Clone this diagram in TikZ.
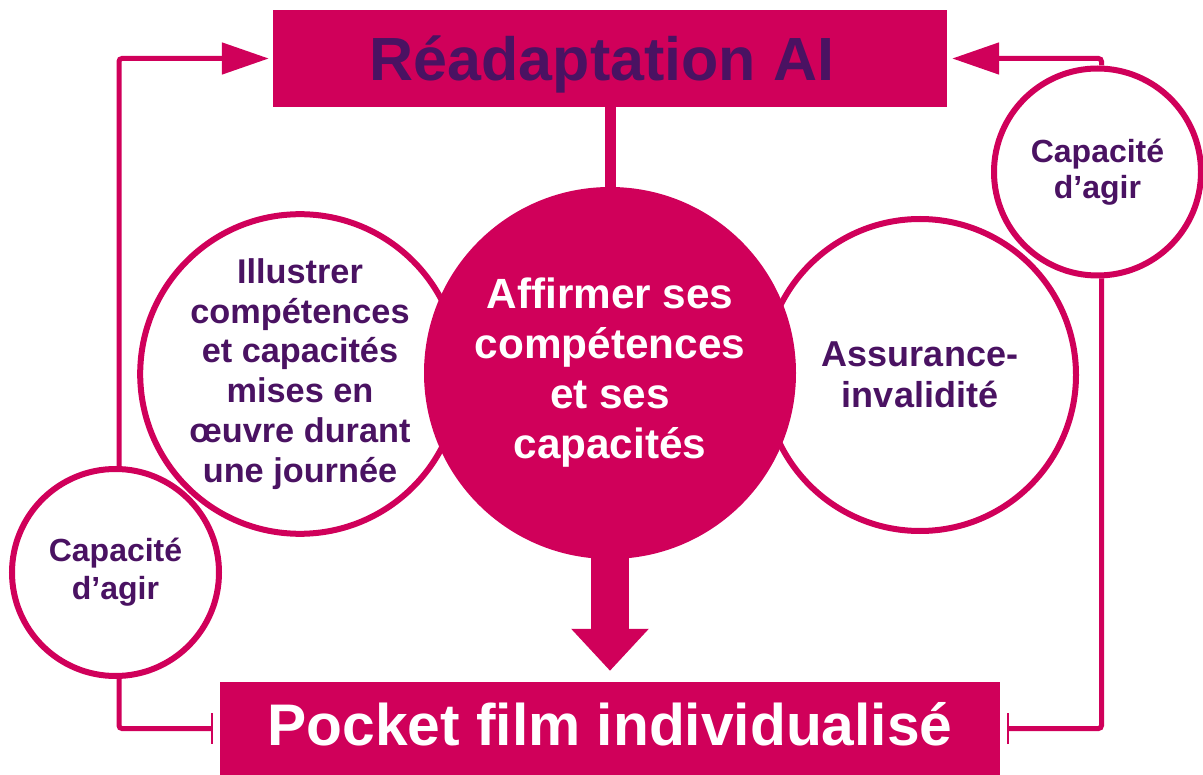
\documentclass[tikz,border=0pt]{standalone}
\usepackage{fontspec}
\setmainfont{Liberation Sans}
\usepackage{tikz}
\usetikzlibrary{arrows.meta}
\definecolor{crimson}{HTML}{D0005A}
\definecolor{plum}{HTML}{4A1262}

\begin{document}
\begin{tikzpicture}[x=1pt,y=-1pt,
    titlebox/.style={fill=crimson, inner sep=0pt},
    ring/.style={circle, draw=crimson, line width=6pt, inner sep=0pt, align=center, text=plum},
    link/.style={crimson, line width=5pt, rounded corners=3pt},
    headtip/.style={-{Triangle[length=47pt,width=31pt]}},
    bartip/.style={-{Bar[width=31pt,line width=2pt]}, shorten >=7pt}]
  \useasboundingbox (0,0) rectangle (1203,775);

  % boxes
  \node[titlebox, minimum width=674pt, minimum height=97pt, text=plum,
        font=\bfseries\fontsize{61}{61}\selectfont, text height=45pt, text depth=0pt]
        (readapt) at (610,58.5) {\hspace*{-16pt}Réadaptation AI};
  \node[titlebox, minimum width=780pt, minimum height=93pt, text=white,
        font=\bfseries\fontsize{58.7}{58.7}\selectfont, text height=34pt, text depth=0pt]
        (film) at (610,728.5) {Pocket film individualisé};

  % circles
  \node[ring, minimum size=312pt, font=\bfseries\fontsize{34.3}{39.8}\selectfont]
        (illustrer) at (300,374) {Illustrer\\compétences\\et capacités\\mises en\\œuvre durant\\une journée};
  \node[ring, minimum size=312pt, font=\bfseries\fontsize{36}{41.5}\selectfont]
        (assurance) at (920,375) {Assurance-\\invalidité};
  \node[ring, minimum size=207pt, font=\bfseries\fontsize{32}{38}\selectfont]
        (agirL) at (115.5,572.5) {Capacité\\d’agir};
  \node[ring, minimum size=207pt, font=\bfseries\fontsize{32}{36}\selectfont]
        (agirR) at (1097.5,172) {Capacité\\d’agir};
  \node[circle, fill=crimson, minimum size=372pt, inner sep=0pt, align=center, text=white,
        font=\bfseries\fontsize{42.3}{50}\selectfont]
        (affirmer) at (610,373) {Affirmer ses\\compétences\\et ses\\capacités};

  % links
  \draw[crimson, line width=11pt] (readapt.south) -- (affirmer.north);
  \draw[crimson, line width=38pt, -{Triangle[length=42pt,width=75pt]}, shorten >=11pt]
        ([yshift=10pt]affirmer.south) -- (film.north);

  \draw[link, headtip, shorten >=4pt] ([xshift=3.5pt]agirL.north) |- (readapt.west);
  \draw[link, bartip] ([xshift=3.5pt]agirL.south) |- (film.west);
  \draw[link, headtip, shorten >=5pt] ([xshift=4pt]agirR.north) |- (readapt.east);
  \draw[link, bartip] ([xshift=4pt]agirR.south) |- (film.east);
\end{tikzpicture}
\end{document}
